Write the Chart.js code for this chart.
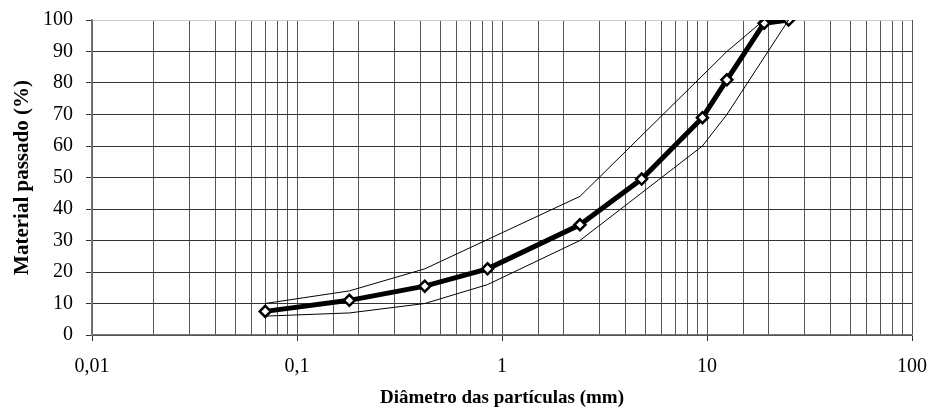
<!DOCTYPE html>
<html>
<head>
<meta charset="utf-8">
<script src="https://cdn.jsdelivr.net/npm/chart.js@4"></script>
<style>
  html, body { margin: 0; padding: 0; background: #fff; }
  #wrap { width: 933px; height: 414px; }
</style>
</head>
<body>
<div id="wrap"><canvas id="curva"></canvas></div>
<script>
// sieve openings (mm) and percentage passing
const diametros = [0.07, 0.18, 0.42, 0.85, 2.4, 4.8, 9.5, 12.5, 19, 25];
const passado = [7.5, 11, 15.5, 21, 35, 49.5, 69, 81, 99, 100];

// grading envelope, upper and lower limits (corner points only)
const limSupX = [0.07, 0.18, 0.42, 2.4, 12.5, 19, 25];
const limSupY = [10, 14, 21, 44, 90, 100, 100];
const limInfX = [0.07, 0.18, 0.42, 0.85, 2.4, 9.5, 12.5, 25];
const limInfY = [6, 7, 10, 16, 30, 60, 70, 100];

const xMajor = [0.01, 0.1, 1, 10, 100];
const xLabels = ["0,01", "0,1", "1", "10", "100"];

function pares(xs, ys) {
  return xs.map((x, i) => ({ x: x, y: ys[i] }));
}

function isMajor(v) {
  return xMajor.some(m => Math.abs(v - m) / m < 1e-6);
}

const serif = "'Liberation Serif', 'Times New Roman', serif";

new Chart(document.getElementById("curva"), {
  type: "line",
  data: {
    datasets: [
      {
        data: pares(limSupX, limSupY),
        borderColor: "#000",
        borderWidth: 1,
        pointRadius: 0,
        tension: 0
      },
      {
        data: pares(limInfX, limInfY),
        borderColor: "#000",
        borderWidth: 1,
        pointRadius: 0,
        tension: 0
      },
      {
        data: pares(diametros, passado),
        borderColor: "#000",
        borderWidth: 5,
        pointStyle: "rectRot",
        pointRadius: 5.5,
        pointBorderWidth: 2.5,
        pointBackgroundColor: "#fff",
        pointBorderColor: "#000",
        tension: 0
      }
    ]
  },
  options: {
    responsive: true,
    maintainAspectRatio: false,
    animation: false,
    layout: { padding: { left: 0, top: 20, right: 21, bottom: 0 } },
    plugins: {
      legend: { display: false },
      tooltip: { enabled: false }
    },
    scales: {
      x: {
        type: "logarithmic",
        min: 0.01,
        max: 100,
        afterFit: (s) => {
          s.height = 79;
          s.paddingLeft = 0;
          s.paddingRight = 0;
        },
        border: { color: "#777", width: 1.5 },
        grid: {
          color: "#555",
          lineWidth: 1,
          tickLength: 6,
          tickColor: (ctx) => (ctx.tick && isMajor(ctx.tick.value) ? "#333" : "rgba(0,0,0,0)")
        },
        ticks: {
          autoSkip: false,
          maxRotation: 0,
          padding: 14,
          color: "#000",
          font: { family: serif, size: 20 },
          callback: (v) => {
            const i = xMajor.findIndex(m => Math.abs(v - m) / m < 1e-6);
            return i >= 0 ? xLabels[i] : "";
          }
        },
        title: {
          display: true,
          text: "Diâmetro das partículas (mm)",
          color: "#000",
          font: { family: serif, size: 19, weight: "bold" },
          padding: { top: 0, bottom: 5 }
        }
      },
      y: {
        min: 0,
        max: 100,
        afterFit: (s) => {
          s.width = 92;
          s.paddingTop = 0;
          s.paddingBottom = 0;
        },
        border: { color: "#777", width: 1.5 },
        grid: {
          color: (ctx) => (ctx.tick && ctx.tick.value === 100 ? "#ccc" : "#333"),
          lineWidth: 1,
          tickLength: 6,
          tickColor: "#333"
        },
        ticks: {
          stepSize: 10,
          padding: 13,
          color: "#000",
          font: { family: serif, size: 20 }
        },
        title: {
          display: true,
          text: "Material passado (%)",
          color: "#000",
          font: { family: serif, size: 21, weight: "bold" },
          padding: { top: 10, bottom: 0 }
        }
      }
    }
  }
});
</script>
</body>
</html>
